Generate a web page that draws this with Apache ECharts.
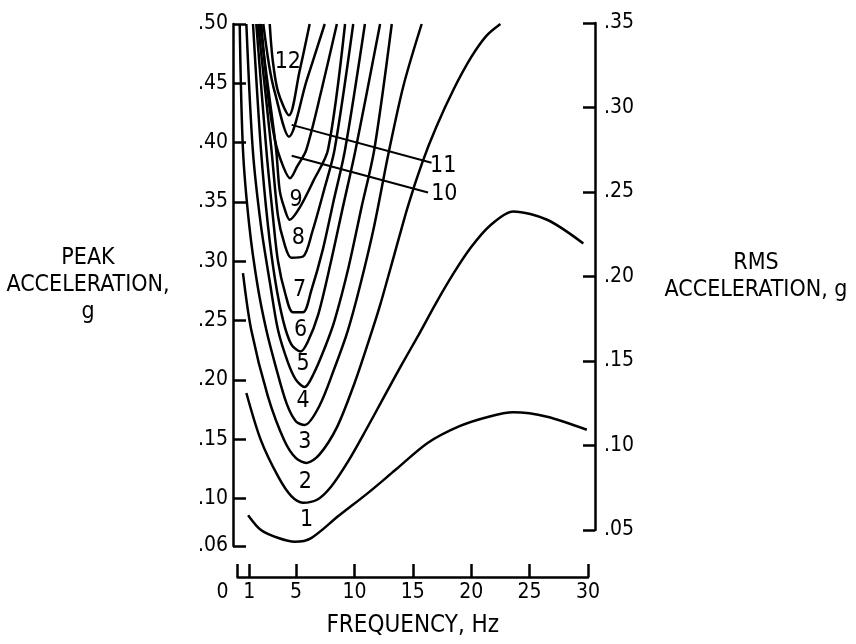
<!DOCTYPE html>
<html>
<head>
<meta charset="utf-8">
<title>Peak and RMS acceleration vs frequency</title>
<script src="https://cdn.jsdelivr.net/npm/echarts@6/dist/echarts.min.js"></script>
<style>
  html, body { margin: 0; padding: 0; background: #fff; }
  #chart { width: 856px; height: 644px; }
</style>
</head>
<body>
<div id="chart"></div>
<script>
// curves: [frequency Hz, peak acceleration g]
const curve1 = [[0.9,0.086],[2.0,0.0735],[3.5,0.0667],[4.9,0.0636],[6.3,0.0667],[8.6,0.085],[11.2,0.105],[13.5,0.124],[16.3,0.147],[19.0,0.161],[21.5,0.169],[23.6,0.1727],[26.5,0.169],[29.9,0.158]]
const curve2 = [[0.75,0.189],[2.0,0.149],[3.5,0.118],[4.6,0.102],[5.6,0.0965],[6.8,0.099],[8.0,0.11],[9.5,0.132],[11.0,0.158],[12.5,0.185],[14.0,0.212],[15.5,0.238],[17.0,0.265],[18.5,0.29],[20.0,0.312],[21.6,0.33],[23.6,0.342],[26.5,0.335],[29.6,0.315]]
const curve3 = [[0.46,0.29],[1.17,0.242],[2.6,0.186],[4.0,0.149],[5.0,0.134],[5.9,0.13],[7.0,0.137],[8.5,0.16],[10.0,0.197],[11.2,0.232],[12.2,0.263],[13.4,0.305],[14.6,0.347],[15.8,0.383],[17.0,0.413],[18.5,0.445],[20.0,0.472],[21.3,0.49],[22.5,0.5]]
const curve4 = [[0.18,0.5],[0.46,0.394],[1.0,0.33],[1.7,0.28],[2.46,0.242],[3.3,0.21],[4.2,0.18],[5.0,0.165],[5.74,0.162],[7.0,0.178],[8.3,0.21],[9.45,0.242],[10.5,0.28],[11.7,0.33],[12.9,0.39],[14.2,0.448],[15.76,0.5]]
const curve5 = [[0.75,0.5],[1.3,0.394],[2.0,0.33],[2.8,0.28],[3.46,0.242],[4.3,0.215],[5.0,0.2],[5.74,0.194],[6.5,0.205],[7.5,0.228],[8.3,0.25],[9.5,0.295],[10.6,0.345],[11.7,0.394],[13.2,0.5]]
const curve6 = [[1.32,0.5],[2.0,0.394],[2.6,0.33],[3.2,0.285],[3.9,0.25],[4.6,0.23],[5.4,0.224],[6.0,0.232],[6.9,0.255],[8.0,0.3],[9.0,0.345],[10.1,0.394],[12.2,0.5]]
const curve7 = [[1.6,0.5],[2.46,0.394],[3.0,0.34],[3.46,0.3],[4.1,0.272],[4.74,0.257],[5.6,0.257],[6.3,0.275],[7.3,0.31],[8.2,0.35],[9.2,0.394],[10.9,0.5]]
const curve8 = [[1.75,0.5],[2.9,0.394],[3.46,0.338],[4.0,0.315],[4.6,0.303],[5.6,0.304],[6.4,0.325],[7.4,0.36],[8.3,0.394],[9.9,0.5]]
const curve9 = [[1.9,0.5],[2.7,0.44],[3.3,0.394],[3.6,0.36],[4.0,0.345],[4.46,0.335],[5.3,0.345],[6.5,0.368],[7.74,0.394],[9.2,0.5]]
const curve10 = [[2.03,0.5],[2.6,0.44],[3.2,0.402],[3.9,0.38],[4.49,0.37],[5.1,0.38],[5.88,0.394],[7.2,0.445],[8.5,0.5]]
const curve11 = [[2.2,0.5],[2.7,0.465],[3.17,0.443],[4.4,0.405],[5.9,0.452],[7.46,0.5]]
const curve12 = [[2.75,0.5],[3.0,0.47],[3.46,0.443],[4.4,0.423],[5.3,0.46],[6.17,0.5]]
const curves = [curve1, curve2, curve3, curve4, curve5, curve6, curve7, curve8, curve9, curve10, curve11, curve12]

// curve numbers written on the plot
const labelText = ['1', '2', '3', '4', '5', '6', '7', '8', '9', '12', '11', '10']
const labelX = [5.9, 5.8, 5.75, 5.6, 5.6, 5.4, 5.3, 5.2, 5.0, 4.3, 17.6, 17.7]
const labelY = [0.082, 0.114, 0.148, 0.182, 0.213, 0.242, 0.276, 0.320, 0.352, 0.468, 0.380, 0.357]

// leader lines for 11 and 10
const leader11 = [[4.63, 0.415], [16.6, 0.383]]
const leader10 = [[4.63, 0.389], [16.3, 0.358]]

// tick values
const freqTicks = [0, 1, 5, 10, 15, 20, 25, 30]
const peakTicks = [0.06, 0.10, 0.15, 0.20, 0.25, 0.30, 0.35, 0.40, 0.45, 0.50]
const rmsTicks = [0.05, 0.10, 0.15, 0.20, 0.25, 0.30, 0.35]

const FONT = "'Liberation Sans Narrow', 'DejaVu Sans Condensed', 'Liberation Sans', sans-serif"
const INK = '#000'
const decimal = v => '.' + String(Math.round(v * 100)).padStart(2, '0')

const chart = echarts.init(document.getElementById('chart'))

const series = curves.map((data, i) => ({
  name: 'curve ' + (i + 1),
  type: 'line',
  xAxisIndex: 0,
  yAxisIndex: 0,
  data: data,
  showSymbol: false,
  smooth: 0.3,
  lineStyle: { color: INK, width: 2.5 },
  silent: true
}))

;[leader11, leader10].forEach(d => {
  series.push({
    type: 'line',
    xAxisIndex: 0,
    yAxisIndex: 0,
    data: d,
    showSymbol: false,
    lineStyle: { color: INK, width: 2 },
    silent: true
  })
})

// scatter with no symbol, only carries the curve numbers
series.push({
  type: 'scatter',
  xAxisIndex: 0,
  yAxisIndex: 0,
  symbolSize: 0,
  itemStyle: { color: INK, opacity: 1 },
  data: labelText.map((t, i) => [labelX[i], labelY[i], t]),
  label: {
    show: true,
    position: 'inside',
    formatter: p => p.data[2],
    color: INK,
    opacity: 1,
    textBorderWidth: 0,
    fontFamily: FONT,
    fontSize: 23
  },
  silent: true
})

const tickLabel = size => ({ color: INK, fontFamily: FONT, fontSize: size })

const option = {
  backgroundColor: '#fff',
  animation: false,
  grid: [
    { left: 237.6, right: 268, top: 24, bottom: 98 },
    { left: 237.6, right: 268, top: 23, bottom: 114 }
  ],
  xAxis: [
    {
      type: 'value',
      gridIndex: 0,
      min: 0,
      max: 30,
      offset: 31,
      axisLine: { onZero: false, lineStyle: { color: INK, width: 2.5 } },
      axisTick: { inside: true, length: 13, customValues: freqTicks, lineStyle: { color: INK, width: 2.5 } },
      axisLabel: {
        customValues: freqTicks,
        margin: 5,
        ...tickLabel(21),
        formatter: v => (v === 0 ? '{z|0}' : String(v)),
        rich: { z: { padding: [0, 30, 0, 0], ...tickLabel(21) } }
      },
      splitLine: { show: false },
      name: 'FREQUENCY, Hz',
      nameLocation: 'middle',
      nameGap: 37,
      nameTextStyle: tickLabel(24)
    },
    { type: 'value', gridIndex: 1, min: 0, max: 30, show: false }
  ],
  yAxis: [
    {
      type: 'value',
      gridIndex: 0,
      position: 'left',
      min: 0.06,
      max: 0.5,
      offset: 4.6,
      axisLine: { show: true, onZero: false, lineStyle: { color: INK, width: 2.5 } },
      axisTick: { show: true, inside: true, length: 13, customValues: peakTicks, lineStyle: { color: INK, width: 2.5 } },
      axisLabel: {
        customValues: peakTicks,
        margin: 5,
        ...tickLabel(21),
        formatter: decimal
      },
      splitLine: { show: false },
      name: 'PEAK\nACCELERATION,\ng',
      nameLocation: 'middle',
      nameRotate: 0,
      nameGap: 145,
      nameTextStyle: { ...tickLabel(23), lineHeight: 27, align: 'center', verticalAlign: 'middle' }
    },
    {
      type: 'value',
      gridIndex: 1,
      position: 'right',
      min: 0.05,
      max: 0.35,
      interval: 0.05,
      offset: 7,
      axisLine: { show: true, onZero: false, lineStyle: { color: INK, width: 2.5 } },
      axisTick: { show: true, inside: true, length: 12, customValues: rmsTicks, lineStyle: { color: INK, width: 2.5 } },
      axisLabel: {
        customValues: rmsTicks,
        margin: 9,
        ...tickLabel(21),
        formatter: decimal
      },
      splitLine: { show: false },
      name: 'RMS\nACCELERATION, g',
      nameLocation: 'middle',
      nameRotate: 0,
      nameGap: 161,
      nameTextStyle: { ...tickLabel(23), lineHeight: 27, align: 'center', verticalAlign: 'middle' }
    }
  ],
  series: series
}

chart.setOption(option)
</script>
</body>
</html>
